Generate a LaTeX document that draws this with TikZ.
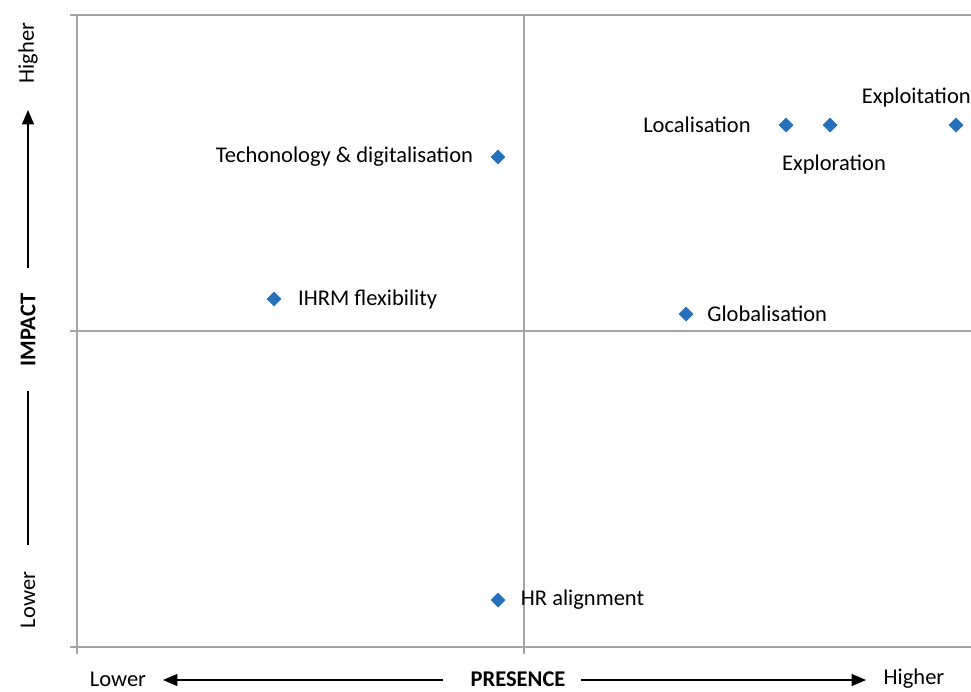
\documentclass[tikz,border=0pt]{standalone}
\usepackage{fontspec}
\setmainfont{Carlito}
\usetikzlibrary{positioning, shapes.geometric, arrows.meta}
\definecolor{pointblue}{RGB}{38,113,188}
\definecolor{gridgray}{RGB}{165,165,165}
\tikzset{
	x=0.025cm, y=-0.025cm,
	every text node part/.style= {
		align=center
	},
	point/.style= {
		diamond,
		fill=pointblue,
		inner sep=0,
		minimum size=0.38cm
	},
	item/.style= {
		font=\fontsize{16}{19}\selectfont,
		inner sep=0
	},
	axistext/.style= {
		font=\fontsize{16}{19}\selectfont,
		inner sep=0
	},
	axistitle/.style= {
		axistext,
		font=\fontsize{16}{19}\selectfont\bfseries
	},
	gridline/.style={gridgray, line width=0.8pt},
	axisarrow/.style={line width=0.9pt, -{Triangle[length=0.36cm, width=0.3cm]}},
}

\begin{document}
\begin{tikzpicture}
	\useasboundingbox (0,0) rectangle (971,691);
	
	% quadrant grid
	\foreach \y in {15,331,647}
	{
		\draw[gridline] (70,\y) -- (971,\y);
	}
	\foreach \x in {77,524}
	{
		\draw[gridline] (\x,15) -- (\x,654);
	}
	
	% points
	\node (tech)[point] at (498,157) {};
	\node (ihrm)[point] at (274,299) {};
	\node (hralign)[point] at (498,600) {};
	\node (global)[point] at (686,314) {};
	\node (local)[point] at (786,125) {};
	\node (explor)[point] at (830,125) {};
	\node (exploit)[point] at (956,125) {};
	
	\node (techlabel)[item, left=0.42cm of tech] {Techonology \& digitalisation};
	\node (ihrmlabel)[item, right=0.4cm of ihrm] {IHRM flexibility};
	\node (hrlabel)[item, right=0.37cm of hralign] {HR alignment};
	\node (globallabel)[item, right=0.33cm of global] {Globalisation};
	\node (locallabel)[item, left=0.68cm of local] {Localisation};
	\node (explorlabel)[item, below=0.55cm of explor, xshift=0.1cm] {Exploration};
	\node (exploitlabel)[item, anchor=east] at (971,97) {Exploitation};
	
	% horizontal axis
	\node (xlow)[axistext] at (118,679) {Lower};
	\node (xtitle)[axistitle] at (518,679) {PRESENCE};
	\node (xhigh)[axistext] at (914,679) {Higher};
	\coordinate (xlowend) at (163,680);
	\coordinate (xlowstart) at (443,680);
	\coordinate (xhighstart) at (581,680);
	\coordinate (xhighend) at (866,680);
	\draw[axisarrow] (xlowstart) -- (xlowend);
	\draw[axisarrow] (xhighstart) -- (xhighend);
	
	% vertical axis
	\node (ylow)[axistext, rotate=90] at (28,600) {Lower};
	\node (ytitle)[axistitle, rotate=90] at (28,330) {IMPACT};
	\node (yhigh)[axistext, rotate=90] at (28,53) {Higher};
	\coordinate (yhighstart) at (28,268);
	\coordinate (yhighend) at (28,110);
	\coordinate (ylowstart) at (28,391);
	\coordinate (ylowend) at (28,545);
	\draw[axisarrow] (yhighstart) -- (yhighend);
	\draw[line width=0.9pt] (ylowstart) -- (ylowend);
	
\end{tikzpicture}
\end{document}
